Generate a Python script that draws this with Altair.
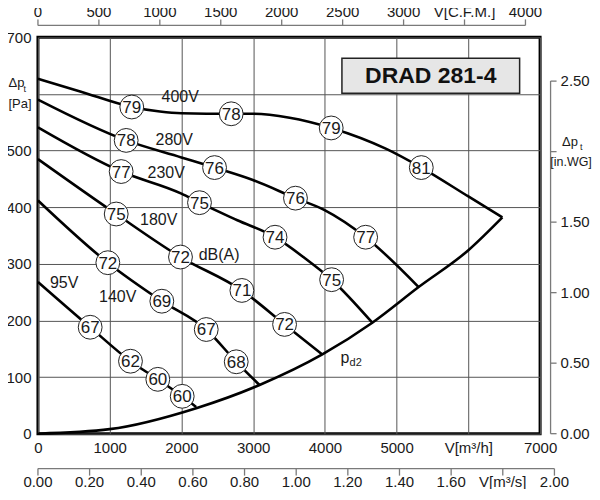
import altair as alt
import pandas as pd

FONT = "Liberation Sans"
INK = "#1a1a1a"

# ---------------- data ----------------
# fan curves: flow [m3/h], total pressure [Pa]
v400_q = [0, 600, 1308, 1700, 2000, 2694, 3000, 3508, 4088, 4856, 5344, 6000, 6474]
v400_p = [627, 604, 577, 569, 566, 565, 565, 558, 540, 503, 470, 419, 382]
v280_q = [0, 1230, 2000, 2462, 2996, 3590, 3996, 4568, 5307]
v280_p = [590, 518, 488, 470, 448, 416, 395, 347, 259]
v230_q = [0, 1160, 2000, 2252, 2780, 3305, 3700, 4094, 4661]
v230_p = [541, 463, 424, 408, 377, 347, 312, 272, 196]
v180_q = [0, 1091, 1987, 2843, 3438, 3964]
v180_p = [485, 388, 312, 253, 193, 140]
v140_q = [0, 974, 1727, 2346, 2764, 3089]
v140_p = [412, 302, 234, 184, 127, 86]
v95_q = [0, 728, 1290, 1671, 2011, 2206]
v95_p = [268, 188, 128, 96, 66, 47]
pd2_q = [0, 1000, 2206, 3089, 3964, 4661, 5307, 6000, 6474]
pd2_p = [0, 8, 45, 86, 140, 196, 259, 324, 382]

# sound levels dB(A) along the curves
db_series = ["400V"] * 4 + ["280V"] * 4 + ["230V"] * 4 + ["180V"] * 4 + ["140V"] * 4 + ["95V"] * 4
db_q = [1308, 2694, 4088, 5344,
        1230, 2462, 3590, 4568,
        1160, 2252, 3305, 4094,
        1091, 1987, 2843, 3438,
        974, 1727, 2346, 2764,
        728, 1290, 1671, 2011]
db_p = [577, 565, 540, 470,
        518, 470, 416, 347,
        463, 408, 347, 272,
        388, 312, 253, 193,
        302, 234, 184, 127,
        188, 128, 96, 66]
db_val = [79, 78, 79, 81,
          78, 76, 76, 77,
          77, 75, 74, 75,
          75, 72, 71, 72,
          72, 69, 67, 68,
          67, 62, 60, 60]

# curve labels (anchor in data units)
lab_text = ["400V", "280V", "230V", "180V", "140V", "95V", "dB(A)"]
lab_q = [1983, 1900, 1788, 1684, 1111, 365, 2526]
lab_p = [595, 518, 460, 377, 242, 267, 316]

# axes
x_ticks = [0, 1000, 2000, 3000, 4000, 5000, 6000, 7000]
y_ticks = [0, 100, 200, 300, 400, 500, 600, 700]
cfm_ticks = [0, 500, 1000, 1500, 2000, 2500, 3000, 3500, 4000]
ms_ticks = [0.0, 0.2, 0.4, 0.6, 0.8, 1.0, 1.2, 1.4, 1.6, 1.8, 2.0]
wg_ticks = [0.0, 0.5, 1.0, 1.5, 2.0, 2.5]

CFM_TO_M3H = 1.699
MS_TO_M3H = 3600.0
WG_TO_PA = 249.09

W, H = 503, 397

# ---------------- tables ----------------
rows = []
for name, qs, ps in [("400V", v400_q, v400_p), ("280V", v280_q, v280_p),
                     ("230V", v230_q, v230_p), ("180V", v180_q, v180_p),
                     ("140V", v140_q, v140_p), ("95V", v95_q, v95_p),
                     ("pd2", pd2_q, pd2_p)]:
    for q, p in zip(qs, ps):
        rows.append({"s": name, "q": q, "p": p})
curves = pd.DataFrame(rows)
dbs = pd.DataFrame({"s": db_series, "q": db_q, "p": db_p, "db": [str(v) for v in db_val]})
labs = pd.DataFrame({"q": lab_q, "p": lab_p, "t": lab_text})

cfm = pd.DataFrame({"q": [c * CFM_TO_M3H for c in cfm_ticks],
                    "t": ["V[C.F.M.]" if c == 3500 else str(c) for c in cfm_ticks]})
ms = pd.DataFrame({"q": [m * MS_TO_M3H for m in ms_ticks],
                   "t": ["V[m³/s]" if abs(m - 1.8) < 1e-9 else f"{m:.2f}" for m in ms_ticks]})
wg = pd.DataFrame({"p": [w * WG_TO_PA for w in wg_ticks],
                   "t": ["" if w == 2.0 else f"{w:.2f}" for w in wg_ticks]})
cfm_line = pd.DataFrame({"q": [0], "q2": [max(cfm_ticks) * CFM_TO_M3H]})
ms_line = pd.DataFrame({"q": [0], "q2": [max(ms_ticks) * MS_TO_M3H]})
wg_line = pd.DataFrame({"p": [0], "p2": [max(wg_ticks) * WG_TO_PA]})
wg_lab = pd.DataFrame({"p": [2.0 * WG_TO_PA]})
pa_lab = pd.DataFrame({"p": [600]})
pd2_lab = pd.DataFrame({"q": [4219], "p": [124]})
one = pd.DataFrame({"a": [0]})

# ---------------- encodings ----------------
xscale = alt.Scale(domain=[0, 7000], nice=False, zero=True)
yscale = alt.Scale(domain=[0, 700], nice=False, zero=True)
X = alt.X("q:Q", scale=xscale, title=None,
          axis=alt.Axis(values=x_ticks, format="d", ticks=False, domain=False,
                        grid=True, gridColor="#555555", gridWidth=1,
                        labelFontSize=15, labelFont=FONT, labelColor=INK,
                        labelPadding=7, labelFlush=False, labelOverlap=False,
                        labelExpr="datum.value == 6000 ? 'V[m³/h]' : datum.label"))
Y = alt.Y("p:Q", scale=yscale, title=None,
          axis=alt.Axis(values=y_ticks, format="d", ticks=False, domain=False,
                        grid=True, gridColor="#555555", gridWidth=1,
                        labelFontSize=15, labelFont=FONT, labelColor=INK,
                        labelPadding=7, labelFlush=False, labelOverlap=False,
                        labelExpr="datum.value == 600 ? '' : datum.label"))

GRAY = "#7a7a7a"

lines = alt.Chart(curves).mark_line(color="black", strokeWidth=2.6, interpolate="monotone").encode(
    x=X, y=Y, detail="s:N")
circles = alt.Chart(dbs).mark_point(shape="circle", size=570, fill="white", stroke="#222222",
                                    strokeWidth=1, opacity=1, fillOpacity=1).encode(x=X, y=Y)
circ_txt = alt.Chart(dbs).mark_text(fontSize=17, font=FONT, color=INK, baseline="middle",
                                    align="center", dy=1).encode(x=X, y=Y, text="db:N")
lab_txt = alt.Chart(labs).mark_text(fontSize=16, font=FONT, color=INK, baseline="middle",
                                    align="center").encode(x=X, y=Y, text="t:N")
pd2_p_txt = alt.Chart(pd2_lab).mark_text(text="p", fontSize=16, font=FONT, color=INK,
                                         align="left", baseline="alphabetic").encode(x=X, y=Y)
pd2_s_txt = alt.Chart(pd2_lab).mark_text(text="d2", fontSize=11, font=FONT, color=INK,
                                         align="left", baseline="alphabetic", dx=9, dy=3).encode(x=X, y=Y)

# top CFM axis
cfm_rule = alt.Chart(cfm_line).mark_rule(color=GRAY, strokeWidth=1.3).encode(
    x=X, x2="q2:Q", y=alt.value(-12))
cfm_tick = alt.Chart(cfm).mark_rule(color=GRAY, strokeWidth=1.3).encode(
    x=X, y=alt.value(-12), y2=alt.value(-18))
cfm_txt = alt.Chart(cfm).mark_text(fontSize=15, font=FONT, color=INK, baseline="middle").encode(
    x=X, y=alt.value(-25), text="t:N")

# bottom m3/s axis
ms_rule = alt.Chart(ms_line).mark_rule(color=GRAY, strokeWidth=1.3).encode(
    x=X, x2="q2:Q", y=alt.value(H + 35))
ms_tick = alt.Chart(ms).mark_rule(color=GRAY, strokeWidth=1.3).encode(
    x=X, y=alt.value(H + 35), y2=alt.value(H + 42))
ms_txt = alt.Chart(ms).mark_text(fontSize=15, font=FONT, color=INK, baseline="middle").encode(
    x=X, y=alt.value(H + 48.5), text="t:N")

# right in.WG axis
wg_rule = alt.Chart(wg_line).mark_rule(color=GRAY, strokeWidth=1.3).encode(
    y=Y, y2="p2:Q", x=alt.value(W + 10.5))
wg_tick = alt.Chart(wg).mark_rule(color=GRAY, strokeWidth=1.3).encode(
    y=Y, x=alt.value(W + 10.5), x2=alt.value(W + 16.5))
wg_txt = alt.Chart(wg).mark_text(fontSize=15, font=FONT, color=INK, baseline="middle",
                                 align="left").encode(y=Y, x=alt.value(W + 20.5), text="t:N")
wg_t1 = alt.Chart(wg_lab).mark_text(text="Δp", fontSize=13, font=FONT, color=INK,
                                    baseline="middle", align="left", dy=-10).encode(
    y=Y, x=alt.value(W + 22))
wg_t2 = alt.Chart(wg_lab).mark_text(text="t", fontSize=9, font=FONT, color=INK,
                                    baseline="middle", align="left", dy=-5).encode(
    y=Y, x=alt.value(W + 40))
wg_t3 = alt.Chart(wg_lab).mark_text(text="[in.WG]", fontSize=12.5, font=FONT, color=INK,
                                    baseline="middle", align="center", dy=10).encode(
    y=Y, x=alt.value(W + 31))

# left Pa label
pa_t1 = alt.Chart(pa_lab).mark_text(text="Δp", fontSize=13, font=FONT, color=INK,
                                    baseline="middle", align="left", dy=-11).encode(
    y=Y, x=alt.value(-29.5))
pa_t2 = alt.Chart(pa_lab).mark_text(text="t", fontSize=9, font=FONT, color=INK,
                                    baseline="middle", align="left", dy=-5).encode(
    y=Y, x=alt.value(-14.5))
pa_t3 = alt.Chart(pa_lab).mark_text(text="[Pa]", fontSize=13, font=FONT, color=INK,
                                    baseline="middle", align="left", dy=10).encode(
    y=Y, x=alt.value(-29.5))

# title box
box = alt.Chart(one).mark_rect(fill="#e6e6e6", stroke="#222222", strokeWidth=1.5).encode(
    x=alt.value(304.5), x2=alt.value(482.5), y=alt.value(21), y2=alt.value(56))
box_txt = alt.Chart(one).mark_text(text="DRAD 281-4", fontSize=23, fontWeight="bold", font=FONT,
                                   color="#111111", baseline="middle", align="center").encode(
    x=alt.value(393.5), y=alt.value(39))

chart = alt.layer(
    lines, circles, circ_txt, lab_txt, pd2_p_txt, pd2_s_txt,
    cfm_rule, cfm_tick, cfm_txt, ms_rule, ms_tick, ms_txt,
    wg_rule, wg_tick, wg_txt, wg_t1, wg_t2, wg_t3,
    pa_t1, pa_t2, pa_t3, box, box_txt
).properties(
    width=W, height=H,
    autosize=alt.AutoSizeParams(type="none"),
    padding={"left": 30, "top": 29, "right": 52, "bottom": 55},
    background="white",
).configure_view(
    stroke="black", strokeWidth=3
)

chart.save("out.html", embed_options={"renderer": "svg", "actions": False})
